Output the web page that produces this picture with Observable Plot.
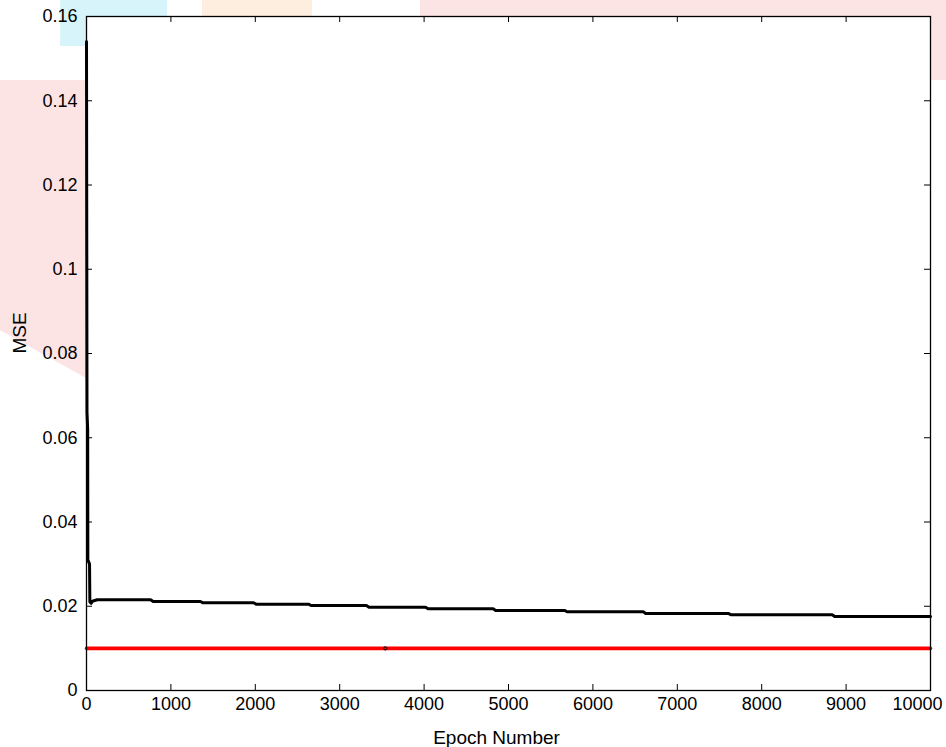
<!DOCTYPE html>
<html>
<head>
<meta charset="utf-8">
<script src="https://cdn.jsdelivr.net/npm/d3@7"></script>
<script src="https://cdn.jsdelivr.net/npm/@observablehq/plot@0.6"></script>
<style>
  html, body { margin: 0; padding: 0; background: #ffffff; }
  #wrap { position: relative; width: 946px; height: 747px; overflow: hidden; }
  .wm { position: absolute; }
  #chart { position: absolute; left: 0; top: 0; width: 946px; height: 747px; }
</style>
</head>
<body>
<div id="wrap">
  <!-- faint watermark patches visible in the margins of the reference -->
  <div class="wm" style="left:0;top:0;width:167px;height:46px;background:#d8f4fb;clip-path:polygon(36% 0,100% 0,100% 35%,60% 35%,60% 100%,36% 100%);"></div>
  <div class="wm" style="left:0;top:80px;width:86px;height:298px;background:#fde4e4;clip-path:polygon(0 0,100% 0,100% 100%,0 84%);"></div>
  <div class="wm" style="left:202px;top:0;width:110px;height:16px;background:#feeedf;"></div>
  <div class="wm" style="left:420px;top:0;width:526px;height:16px;background:#fde4e4;"></div>
  <div class="wm" style="left:930px;top:0;width:16px;height:80px;background:#fde4e4;"></div>
  <div id="chart"></div>
</div>
<script>
// Training error (MSE) per epoch
const epochs = [0, 6, 14, 16, 36, 40, 55, 70, 127, 760, 790, 1350, 1380, 1980, 2010, 2630, 2660, 3317, 3347, 4017, 4047, 4818, 4848, 5664, 5694, 6596, 6626, 7603, 7633, 8835, 8865, 10000];
const mse    = [0.154, 0.066, 0.062, 0.031, 0.030, 0.021, 0.0207, 0.0212, 0.02153, 0.02153, 0.02113, 0.02113, 0.02082, 0.02082, 0.02049, 0.02049, 0.02018, 0.02018, 0.01978, 0.01978, 0.0194, 0.0194, 0.0190, 0.0190, 0.0187, 0.0187, 0.0183, 0.0183, 0.0180, 0.0180, 0.01757, 0.01757];

// Goal line
const goalEpochs = [0, 10000];
const goalValue = 0.01;
const goalMarkerEpoch = [3540];

// Axes
const xTicks = [0, 1000, 2000, 3000, 4000, 5000, 6000, 7000, 8000, 9000, 10000];
const xTickLabels = ["0", "1000", "2000", "3000", "4000", "5000", "6000", "7000", "8000", "9000", "10000"];
const yTicks = [0, 0.02, 0.04, 0.06, 0.08, 0.1, 0.12, 0.14, 0.16];
const yTickLabels = ["0", "0.02", "0.04", "0.06", "0.08", "0.1", "0.12", "0.14", "0.16"];
const xLabel = "Epoch Number";
const yLabel = "MSE";

const curve = epochs.map((e, i) => ({epoch: e, mse: mse[i]}));
const goal = goalEpochs.map(e => ({epoch: e, mse: goalValue}));
const marker = goalMarkerEpoch.map(e => ({epoch: e, mse: goalValue}));
const yLabelMap = new Map(yTicks.map((t, i) => [t, yTickLabels[i]]));
const xLabelMap = new Map(xTicks.map((t, i) => [t, xTickLabels[i]]));
const lastX = xTicks[xTicks.length - 1];
const xInner = xTicks.slice(0, -1);

const W = 946, H = 747;
const mL = 86, mR = 16, mT = 16, mB = 57;
const innerH = H - mT - mB, innerW = W - mL - mR;
const tick = 6;

const chart = Plot.plot({
  width: W,
  height: H,
  marginLeft: mL,
  marginRight: mR,
  marginTop: mT,
  marginBottom: mB,
  style: {fontFamily: "'Liberation Sans', Arial, Helvetica, sans-serif", fontSize: "18px", background: "transparent", color: "#000", overflow: "visible"},
  x: {domain: [0, 10000]},
  y: {domain: [0, 0.16]},
  marks: [
    Plot.frame({fill: "white", stroke: null}),
    // inward ticks, all four sides
    Plot.ruleX(xTicks, {x: d => d, insetTop: innerH - tick, stroke: "#000", strokeWidth: 1}),
    Plot.ruleX(xTicks, {x: d => d, insetBottom: innerH - tick, stroke: "#000", strokeWidth: 1}),
    Plot.ruleY(yTicks, {y: d => d, insetRight: innerW - tick, stroke: "#000", strokeWidth: 1}),
    Plot.ruleY(yTicks, {y: d => d, insetLeft: innerW - tick, stroke: "#000", strokeWidth: 1}),
    Plot.axisX(xInner, {anchor: "bottom", tickSize: 0, tickPadding: 7, label: null, tickFormat: d => xLabelMap.get(d), fontSize: 18}),
    Plot.text([lastX], {x: d => d, frameAnchor: "bottom", dy: 7, dx: 12, textAnchor: "end", text: d => xLabelMap.get(d), fontSize: 18, lineAnchor: "top"}),
    Plot.axisY(yTicks, {anchor: "left", tickSize: 0, tickPadding: 9, label: null, tickFormat: d => yLabelMap.get(d), fontSize: 18}),
    Plot.line(goal, {x: "epoch", y: "mse", stroke: "#ff0000", strokeWidth: 3.6}),
    Plot.dot(marker, {x: "epoch", y: "mse", r: 1.6, stroke: "#000", strokeWidth: 1, fill: "none"}),
    Plot.line(curve, {x: "epoch", y: "mse", stroke: "#000", strokeWidth: 3, strokeLinejoin: "round"}),
    Plot.frame({stroke: "#000", strokeWidth: 1.3}),
    Plot.text([xLabel], {frameAnchor: "bottom", dy: 47, dx: -12, text: d => d, fontSize: 19, lineAnchor: "middle"}),
    Plot.text([yLabel], {frameAnchor: "left", dx: -67, rotate: -90, text: d => d, fontSize: 19, lineAnchor: "middle"})
  ]
});
document.getElementById("chart").appendChild(chart);
</script>
</body>
</html>
